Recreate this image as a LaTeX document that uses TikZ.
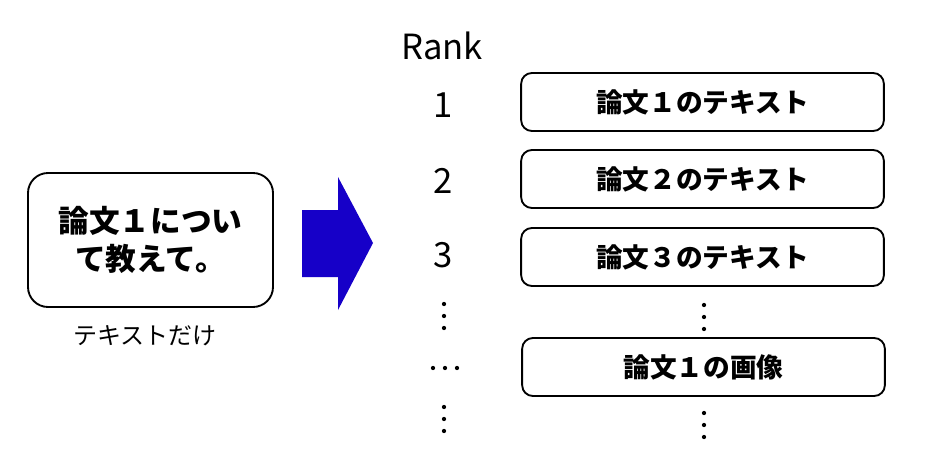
\documentclass[tikz,border=0pt]{standalone}
\usepackage{fontspec}
\setmainfont{Noto Sans CJK JP}
\usepackage{xcolor}
\definecolor{arrowblue}{RGB}{22,0,200}

\begin{document}
\begin{tikzpicture}[x=0.75pt,y=-0.75pt,
        querybox/.style={draw,line width=1.4pt,rounded corners=15pt,minimum width=183.75pt,minimum height=100.5pt,align=center,font=\bfseries\fontsize{23}{28.5}\selectfont},
        docbox/.style={draw,line width=1.4pt,rounded corners=8pt,minimum width=272pt,minimum height=43.5pt,font=\bfseries\fontsize{20}{24}\selectfont},
        ranklabel/.style={anchor=base,font=\fontsize{26}{30}\selectfont}]
        \useasboundingbox (0,0) rectangle (937,464);
        % query
        \node[querybox] (query) at (150.5,240) {論文１につい\\て教えて。};
        \node[font=\fontsize{18}{21}\selectfont] (note) at (145,336) {テキストだけ};
        % big arrow
        \fill[arrowblue] (302,210) -- (338,210) -- (338,177) -- (373,243) -- (338,310) -- (338,277) -- (302,277) -- cycle;
        % ranking
        \node[ranklabel] (rank) at (442,59) {Rank};
        \node[ranklabel] (r1) at (443,117) {1};
        \node[ranklabel] (r2) at (443,193) {2};
        \node[ranklabel] (r3) at (443,267) {3};
        \node[docbox] (doc1) at (702.5,102) {論文１のテキスト};
        \node[docbox] (doc2) at (702.5,179) {論文２のテキスト};
        \node[docbox] (doc3) at (702.5,257) {論文３のテキスト};
        \node[docbox] (img1) at (703.5,367) {論文１の画像};
        % dots
        \foreach \y in {304,316,328,407,419,431}
            \fill (444,\y) circle (1.6pt);
        \foreach \x in {433,445,457}
            \fill (\x,368) circle (1.6pt);
        \foreach \y in {305,317,329,413,425,437}
            \fill (704,\y) circle (1.6pt);
    \end{tikzpicture}
\end{document}
